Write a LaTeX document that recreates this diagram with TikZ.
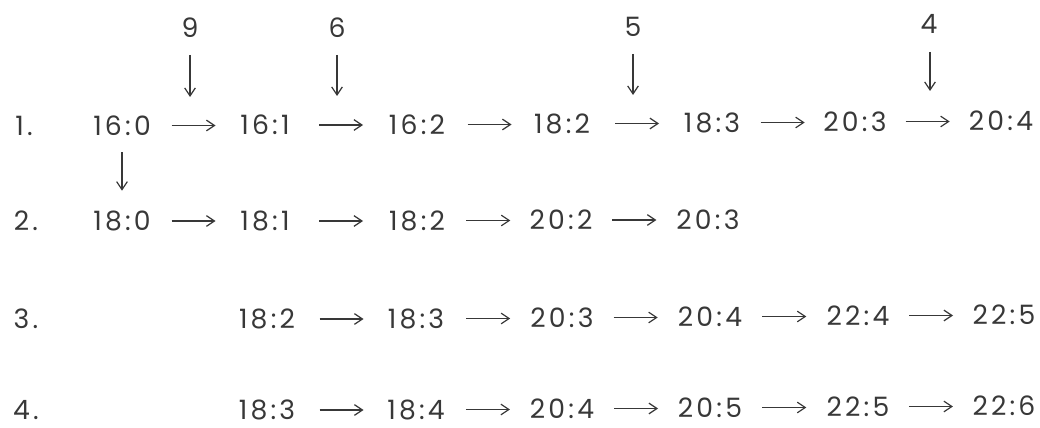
\documentclass[tikz,border=0pt]{standalone}
\usepackage{fontspec}
\setmainfont{Poppins}[LetterSpace=12]
\usetikzlibrary{arrows.meta,calc}
\definecolor{ink}{HTML}{383838}
\tikzset{
  every node/.style={text=ink, font=\fontsize{20}{22}\selectfont, inner sep=0pt, anchor=center},
  val/.style={minimum width=45pt},
  rowlab/.style={},
  arrowtip/.style={-{Straight Barb[length=6pt,width=8pt,line width=0.9pt]}},
  drop/.style={draw=ink, line width=0.9pt, arrowtip}
}
\begin{document}
\begin{tikzpicture}[x=0.75pt,y=-0.75pt]
\useasboundingbox (0,0) rectangle (1040,428);
% row labels
\node[rowlab] (r1) at (24,126) {1.};
\node[rowlab] (r2) at (26,221) {2.};
\node[rowlab] (r3) at (26,319) {3.};
\node[rowlab] (r4) at (26,410) {4.};
% row 1
\node[val] (a1) at (122,126) {16:0};
\node[val] (a2) at (265,125) {16:1};
\node[val] (a3) at (417,125) {16:2};
\node[val] (a4) at (562,124) {18:2};
\node[val] (a5) at (712,123) {18:3};
\node[val] (a6) at (855,122) {20:3};
\node[val] (a7) at (1001,121) {20:4};
% row 2
\node[val] (b1) at (122,221) {18:0};
\node[val] (b2) at (265,221) {18:1};
\node[val] (b3) at (417,221) {18:2};
\node[val] (b4) at (561,220) {20:2};
\node[val] (b5) at (708,220) {20:3};
% row 3
\node[val] (c1) at (267,319) {18:2};
\node[val] (c2) at (416,319) {18:3};
\node[val] (c3) at (562,318) {20:3};
\node[val] (c4) at (710,317) {20:4};
\node[val] (c5) at (858,316) {22:4};
\node[val] (c6) at (1004,315) {22:5};
% row 4
\node[val] (d1) at (267,410) {18:3};
\node[val] (d2) at (416,410) {18:4};
\node[val] (d3) at (562,409) {20:4};
\node[val] (d4) at (710,408) {20:5};
\node[val] (d5) at (858,407) {22:5};
\node[val] (d6) at (1004,406) {22:6};
% top labels
\node (l9) at (190,28) {9};
\node (l6) at (337,28) {6};
\node (l5) at (633,27) {5};
\node (l4) at (929,24) {4};
\coordinate (t9) at (190,97);
\coordinate (t6) at (337,96);
\coordinate (t5) at (633,95);
\coordinate (t4) at (930,91);
\coordinate (s9) at (190,55);
\coordinate (s6) at (337,55);
\coordinate (s5) at (633,54);
\coordinate (s4) at (930,52);
\draw[drop] (s9) -- (t9);
\draw[drop] (s6) -- (t6);
\draw[drop] (s5) -- (t5);
\draw[drop] (s4) -- (t4);
% down arrow 16:0 -> 18:0
\draw[drop, shorten <=12pt, shorten >=15pt] (a1) -- (b1);
% horizontal flows, fixed length centred in the gap
\foreach \u/\v in {a1/a2,a2/a3,a3/a4,a4/a5,a5/a6,a6/a7,
                   b1/b2,b2/b3,b3/b4,b4/b5,
                   c1/c2,c2/c3,c3/c4,c4/c5,c5/c6,
                   d1/d2,d2/d3,d3/d4,d4/d5,d5/d6}
  \draw[drop] ($(\u.east)!.5!(\v.west)+(-22,0)$) -- ($(\u.east)!.5!(\v.west)+(22,0)$);
\end{tikzpicture}
\end{document}
